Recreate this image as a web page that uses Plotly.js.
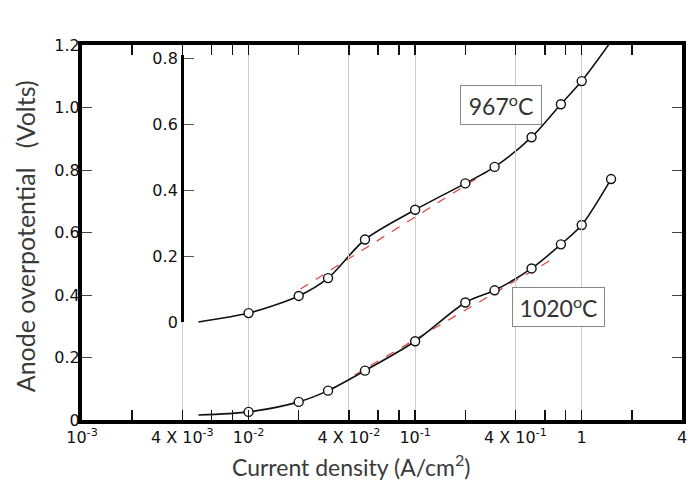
<!DOCTYPE html>
<html>
<head>
<meta charset="utf-8">
<script src="https://cdn.plot.ly/plotly-3.0.1.min.js"></script>
<style>html,body{margin:0;padding:0;background:#fff;}#chart{width:688px;height:481px;}</style>
</head>
<body>
<div id="chart"></div>
<script>
// Tick definitions
const xTickVals = [0.001, 0.004, 0.01, 0.04, 0.1, 0.4, 1, 4];
const xTickText = ['10<sup>-3</sup>', '4 X 10<sup>-3</sup>', '10<sup>-2</sup>', '4 X 10<sup>-2</sup>', '10<sup>-1</sup>', '4 X 10<sup>-1</sup>', '1', '4'];
const xMinorVals = [0.002, 0.006, 0.008, 0.02, 0.06, 0.08, 0.2, 0.6, 0.8, 2];
const yTickVals = [0, 0.2, 0.4, 0.6, 0.8, 1.0, 1.2];
const yTickText = ['0', '0.2', '0.4', '0.6', '0.8', '1.0', '1.2'];
const insetTickVals = [0, 0.2, 0.4, 0.6, 0.8];
const insetTickText = ['0', '0.2', '0.4', '0.6', '0.8'];

// 967 C curve (read on the inset axis); first and last points are curve ends without markers
const c967X = [0.005, 0.01, 0.02, 0.03, 0.05, 0.1, 0.2, 0.3, 0.5, 0.75, 1.0, 1.45];
const c967Y = [0.0, 0.027, 0.079, 0.133, 0.25, 0.34, 0.42, 0.47, 0.56, 0.66, 0.73, 0.84];
// 1020 C curve (read on the main axis); first point is the curve start without marker
const c1020X = [0.005, 0.01, 0.02, 0.03, 0.05, 0.1, 0.2, 0.3, 0.5, 0.75, 1.0, 1.5];
const c1020Y = [0.016, 0.026, 0.058, 0.094, 0.158, 0.252, 0.376, 0.415, 0.485, 0.562, 0.624, 0.771];
// Red dashed Tafel fits
const fit967X = [0.0205, 0.27];
const fit967Y = [0.1, 0.455];
const fit1020X = [0.0435, 0.64];
const fit1020Y = [0.145, 0.509];

const markerStyle = {symbol: 'circle', size: 9, color: 'white', line: {color: '#111', width: 1.4}};
const curveLine = {color: '#111', width: 1.6, shape: 'spline', smoothing: 0.8};
const fitLine = {color: '#e0403a', width: 1.2, dash: 'dash'};

const traces = [
  {x: fit1020X, y: fit1020Y, xaxis: 'x', yaxis: 'y', mode: 'lines', line: fitLine, hoverinfo: 'skip'},
  {x: c1020X, y: c1020Y, xaxis: 'x', yaxis: 'y', mode: 'lines', line: curveLine},
  {x: c1020X.slice(1), y: c1020Y.slice(1), xaxis: 'x', yaxis: 'y', mode: 'markers', marker: markerStyle, cliponaxis: false},
  {x: fit967X, y: fit967Y, xaxis: 'x', yaxis: 'y2', mode: 'lines', line: fitLine, hoverinfo: 'skip'},
  {x: c967X, y: c967Y, xaxis: 'x', yaxis: 'y2', mode: 'lines', line: curveLine},
  {x: c967X.slice(1, -1), y: c967Y.slice(1, -1), xaxis: 'x', yaxis: 'y3', mode: 'markers', marker: markerStyle, cliponaxis: false}
];

const tickFont = {family: 'DejaVu Sans, sans-serif', size: 16, color: '#111'};
const titleFont = {family: 'Lato, Open Sans, sans-serif', size: 23, color: '#3a3a3a'};
const yTitleFont = {family: 'Lato, Open Sans, sans-serif', size: 25, color: '#3a3a3a'};
const boxFont = {family: 'Lato, Open Sans, sans-serif', size: 23, color: '#333'};

const layout = {
  width: 688, height: 481,
  margin: {l: 82, r: 6, t: 45, b: 61},
  paper_bgcolor: 'white', plot_bgcolor: 'rgba(0,0,0,0)',
  showlegend: false,
  xaxis: {
    type: 'log', range: [-3, Math.log10(4)],
    tickmode: 'array', tickvals: xTickVals, ticktext: xTickText,
    ticks: 'inside', ticklen: 10, tickwidth: 1.5, tickcolor: '#111',
    showline: true, linewidth: 4, linecolor: '#000', mirror: 'ticks',
    showgrid: true, gridcolor: '#cccccc', gridwidth: 1, zeroline: false,
    tickfont: tickFont, ticklabeloverflow: 'allow',
    minor: {tickmode: 'array', tickvals: xMinorVals, ticks: 'inside', ticklen: 10, tickwidth: 1.5, tickcolor: '#111', showgrid: false}
  },
  yaxis: {
    range: [0, 1.2], tickmode: 'array', tickvals: yTickVals, ticktext: yTickText,
    ticks: 'inside', ticklen: 10, tickwidth: 1, tickcolor: '#444',
    showline: true, linewidth: 4, linecolor: '#000', mirror: 'ticks',
    showgrid: false, zeroline: false, tickfont: tickFont, ticklabelstandoff: -5
  },
  yaxis2: {
    overlaying: 'y', range: [-0.29697, 0.83939], visible: false, showgrid: false, zeroline: false
  },
  yaxis3: {
    domain: [0.26133, 0.97333], range: [0, 0.80909],
    anchor: 'free', position: 0.1667, side: 'left',
    tickmode: 'array', tickvals: insetTickVals, ticktext: insetTickText,
    ticks: 'inside', ticklen: 10, tickwidth: 1, tickcolor: '#555',
    showline: true, linewidth: 3, linecolor: '#000',
    showgrid: false, zeroline: false, tickfont: tickFont
  },
  annotations: [
    {text: '967<sup>o</sup>C', xref: 'paper', yref: 'paper', x: 0.698, y: 0.84, xanchor: 'center', yanchor: 'middle', showarrow: false,
     font: boxFont, bordercolor: '#888', borderwidth: 1, borderpad: 0, width: 80, height: 38, bgcolor: 'white'},
    {text: '1020<sup>o</sup>C', xref: 'paper', yref: 'paper', x: 0.794, y: 0.301, xanchor: 'center', yanchor: 'middle', showarrow: false,
     font: boxFont, bordercolor: '#888', borderwidth: 1, borderpad: 0, width: 91, height: 38, bgcolor: 'white'},
    {text: 'Current density (A/cm<sup>2</sup>)', xref: 'paper', yref: 'paper', x: 0.448, y: -0.12,
     xanchor: 'center', yanchor: 'middle', showarrow: false, font: titleFont},
    {text: 'Anode overpotential\u00a0\u00a0 (Volts)', xref: 'paper', yref: 'paper', x: -0.095, y: 0.49,
     xanchor: 'center', yanchor: 'middle', textangle: -90, showarrow: false, font: yTitleFont}
  ]
};

Plotly.newPlot('chart', traces, layout, {staticPlot: true, displayModeBar: false});
</script>
</body>
</html>
